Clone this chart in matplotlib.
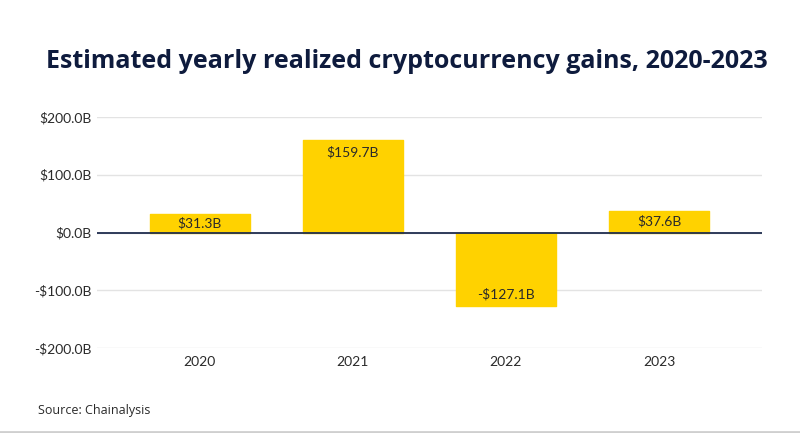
import numpy as np
import matplotlib.pyplot as plt
from matplotlib.lines import Line2D

# Data.
Years = ['2020', '2021', '2022', '2023']
Gains = [31.3, 159.7, -127.1, 37.6]
ValueLabels = ['$31.3B', '$159.7B', '-$127.1B', '$37.6B']
yTicks = [-200, -100, 0, 100, 200]
yTickLabels = ['-$200.0B', '-$100.0B', '$0.0B', '$100.0B', '$200.0B']

# Plot styling.
BarColor = '#FFD200'
NavyColor = '#0E1B3D'
TextColor = '#2A2A2A'
GridColor = '#E3E3E3'
FontType = 'Lato'

fig = plt.figure(figsize=(8, 4.33), dpi=100)
ax = fig.add_axes([0.121, 0.196, 0.831, 0.534])

x = np.arange(len(Years))
ax.bar(x, Gains, width=0.65, color=BarColor, edgecolor=BarColor,
       linewidth=1, joinstyle='round', zorder=2)

# Value labels inside the bars.
PxPerUnit = 0.534 * 433 / 400
for xi, val, lab in zip(x, Gains, ValueLabels):
    offPx = min(12, abs(val) * PxPerUnit / 2)
    sign = -1 if val > 0 else 1
    ax.annotate(lab, xy=(xi, val), xytext=(0, sign * offPx * 0.72),
                textcoords='offset points', ha='center', va='center',
                fontsize=10, fontname=FontType, color=TextColor, zorder=3)

ax.set_xlim(-0.673, 3.67)
ax.set_ylim(-200, 200)
ax.set_yticks(yTicks)
ax.set_yticklabels(yTickLabels)
ax.set_xticks(x)
ax.set_xticklabels(Years)
ax.tick_params(axis='both', length=0, labelsize=10, labelcolor=TextColor)
ax.tick_params(axis='y', pad=4)
ax.tick_params(axis='x', pad=6)
for lab in ax.get_xticklabels() + ax.get_yticklabels():
    lab.set_fontname(FontType)

ax.grid(axis='y', color=GridColor, linewidth=1, zorder=0)
ax.axhline(0, color='#1F2D4E', linewidth=1.3, zorder=4)
for s in ax.spines.values():
    s.set_visible(False)

fig.text(0.509, 0.857, 'Estimated yearly realized cryptocurrency gains, 2020-2023',
         ha='center', va='center', fontsize=18, fontweight='bold',
         fontname='Open Sans', color=NavyColor)
fig.text(0.047, 0.053, 'Source: Chainalysis', ha='left', va='center',
         fontsize=9, fontname='Open Sans', color=TextColor)
fig.add_artist(Line2D([0, 1], [0.002, 0.002], transform=fig.transFigure,
                      color='#CFCFCF', linewidth=2))

fig.savefig('out.png', dpi=100, facecolor='white')
